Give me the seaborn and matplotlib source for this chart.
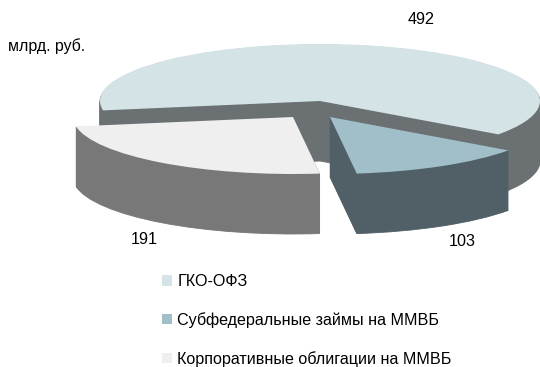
import matplotlib
matplotlib.use("Agg")
import matplotlib.pyplot as plt
import seaborn as sns

sns.set_theme(style="white")
plt.rcParams["font.family"] = ["Liberation Sans", "DejaVu Sans"]

# Market volumes, bln RUB
segments = ["ГКО-ОФЗ", "Субфедеральные займы на ММВБ", "Корпоративные облигации на ММВБ"]
volumes = [492, 103, 191]
unit_label = "млрд. руб."

top_colors = sns.color_palette(["#d3e3e6", "#a1bfc9", "#efefef"])
side_colors = sns.color_palette(["#6b7072", "#516067", "#787878"])

W, H = 540, 367
CX, CY = 320, 101      # pixel position of the pie centre
RX, RY = 220, 57       # pixel radii of the flattened disc
DEPTH = 60             # pixel height of the extruded wall
START = 189.5
# wedge displacement from the centre, in pixels (right, down)
shifts = [(0, 0), (10, 16), (-27, 16)]

fig = plt.figure(figsize=(W / 100, H / 100), dpi=100, facecolor="white")
ax = fig.add_axes([0, 0, 1, 1])

total = sum(volumes)
handles = []
angle = START
for value, top, side, (dx, dy) in zip(volumes, top_colors, side_colors, shifts):
    sweep = 360 * value / total
    cx, cy = dx / RX, -dy / RY
    slice_values = [value, total - value]
    # wall: the wedge repeated downward, one pixel per layer
    for px in range(DEPTH, 0, -1):
        wedges, _ = ax.pie(slice_values, colors=[side, "none"], startangle=angle,
                           counterclock=False, center=(cx, cy - px / RY),
                           radius=1, frame=True, wedgeprops={"linewidth": 0.6, "edgecolor": "none"})
        wedges[0].set_edgecolor(side)
        wedges[1].set_visible(False)
    wedges, _ = ax.pie(slice_values, colors=[top, "none"], startangle=angle,
                       counterclock=False, center=(cx, cy), radius=1, frame=True,
                       wedgeprops={"linewidth": 0})
    wedges[1].set_visible(False)
    handles.append(wedges[0])
    angle -= sweep

ax.set_aspect("auto")
ax.set_xlim(-CX / RX, (W - CX) / RX)
ax.set_ylim((CY - H) / RY, CY / RY)
ax.set_xticks([])
ax.set_yticks([])
ax.axis("off")

label_pos = [(421, 19), (462, 241), (144, 240)]
for value, (px, py) in zip(volumes, label_pos):
    fig.text(px / W, 1 - py / H, str(value), ha="center", va="center",
             fontsize=11.6, color="black")
fig.text(8 / W, 1 - 46 / H, unit_label, ha="left", va="center", fontsize=11.4, color="black")

legend = ax.legend(handles, segments, loc="upper left", bbox_to_anchor=(162 / W, 1 - 274 / H),
                   bbox_transform=fig.transFigure, frameon=False, fontsize=11.6,
                   handlelength=0.63, handleheight=0.63, handletextpad=0.32,
                   labelspacing=1.43, borderpad=0, borderaxespad=0)
for text in legend.get_texts():
    text.set_color("black")

fig.savefig("out.png", dpi=100, facecolor="white")
